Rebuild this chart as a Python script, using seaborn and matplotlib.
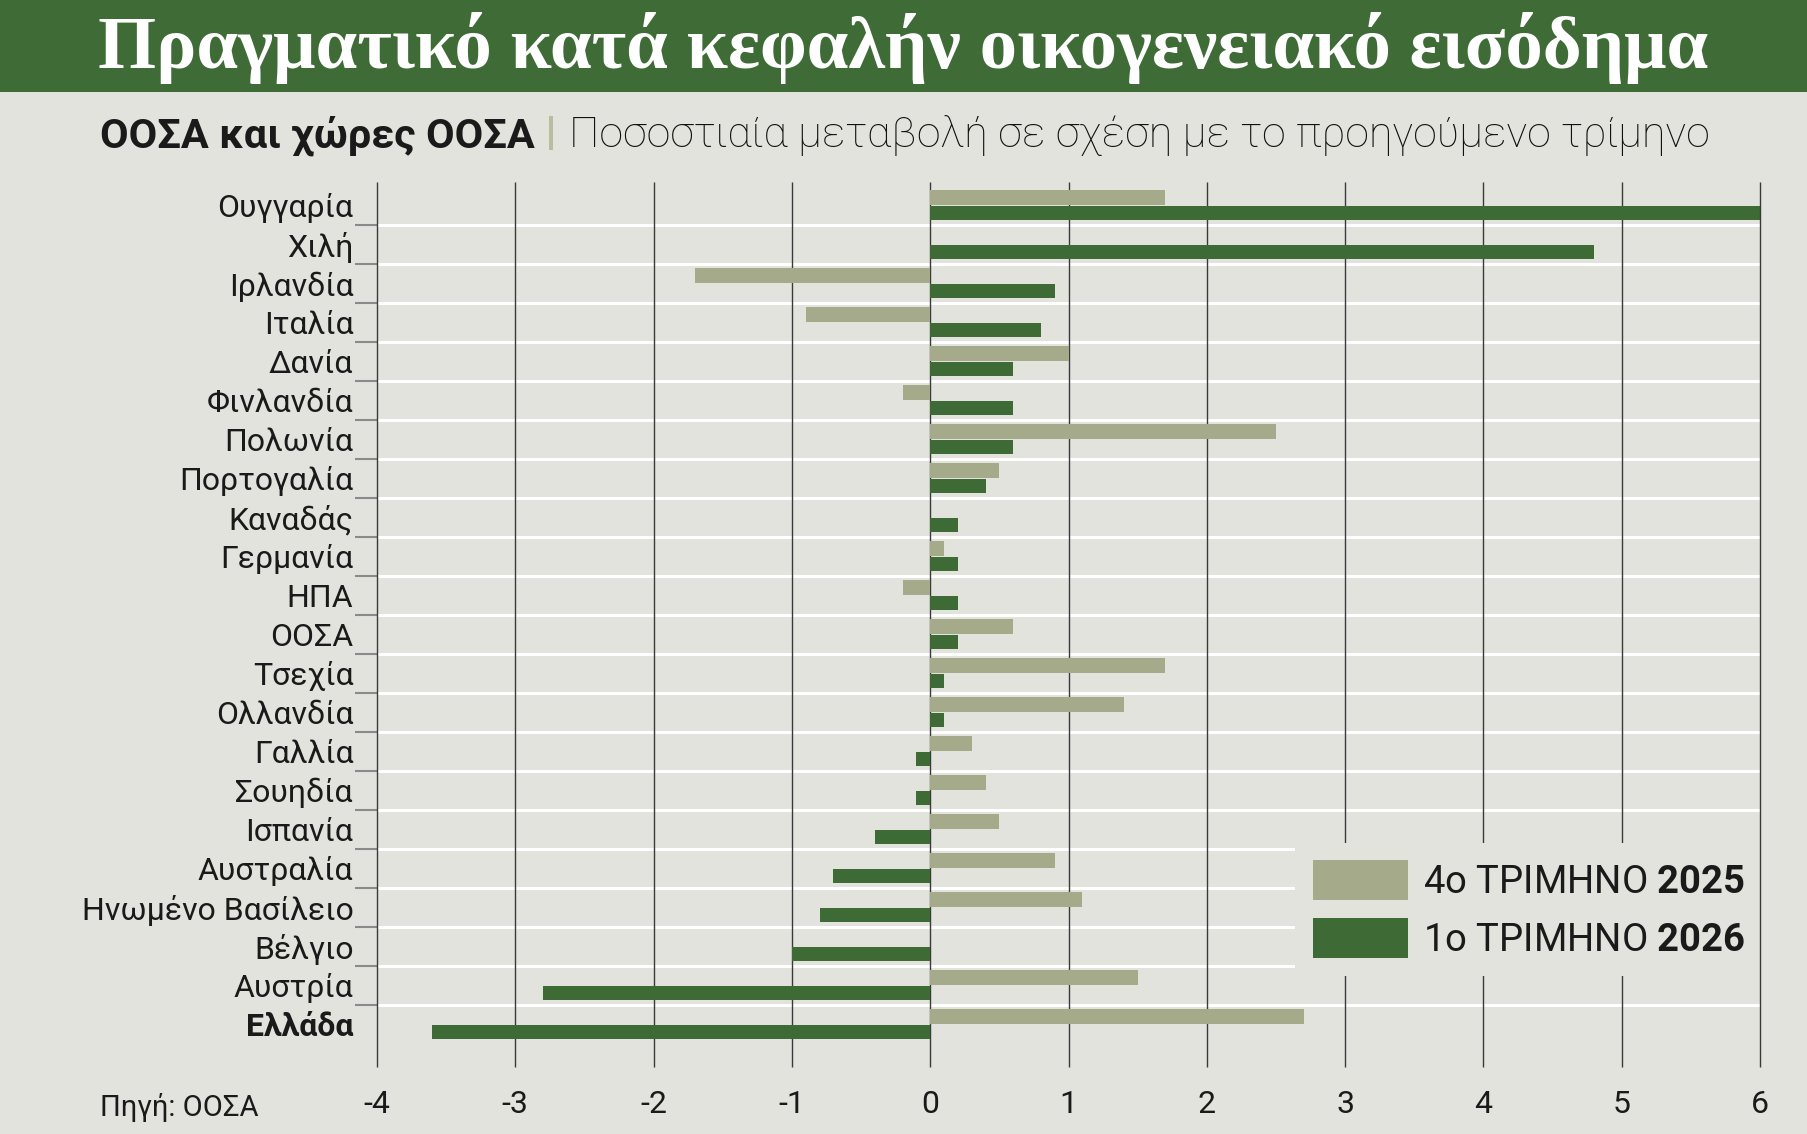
import matplotlib
matplotlib.use("Agg")
import matplotlib.pyplot as plt
from matplotlib.patches import Rectangle, Patch
import seaborn as sns
import pandas as pd

countries = ["Ουγγαρία", "Χιλή", "Ιρλανδία", "Ιταλία", "Δανία", "Φινλανδία",
             "Πολωνία", "Πορτογαλία", "Καναδάς", "Γερμανία", "ΗΠΑ", "ΟΟΣΑ",
             "Τσεχία", "Ολλανδία", "Γαλλία", "Σουηδία", "Ισπανία", "Αυστραλία",
             "Ηνωμένο Βασίλειο", "Βέλγιο", "Αυστρία", "Ελλάδα"]
q4_2025 = [1.7, 0.0, -1.7, -0.9, 1.0, -0.2, 2.5, 0.5, 0.0, 0.1, -0.2, 0.6,
           1.7, 1.4, 0.3, 0.4, 0.5, 0.9, 1.1, 0.0, 1.5, 2.7]
q1_2026 = [6.0, 4.8, 0.9, 0.8, 0.6, 0.6, 0.6, 0.4, 0.2, 0.2, 0.2, 0.2,
           0.1, 0.1, -0.1, -0.1, -0.4, -0.7, -0.8, -1.0, -2.8, -3.6]
periods = ["4ο ΤΡΙΜΗΝΟ 2025", "1ο ΤΡΙΜΗΝΟ 2026"]
xticks = [-4, -3, -2, -1, 0, 1, 2, 3, 4, 5, 6]

BG = "#e3e3dd"
HEAD = "#3f6b37"
LIGHT = "#a5aa8b"
DARK = "#3e6a36"

df = pd.DataFrame({
    "country": countries * 2,
    "period": [periods[0]] * len(countries) + [periods[1]] * len(countries),
    "value": q4_2025 + q1_2026,
})

sns.set_style("white", {"axes.facecolor": BG, "figure.facecolor": BG})
plt.rcParams["font.family"] = ["Roboto", "DejaVu Sans"]
plt.rcParams["mathtext.fontset"] = "custom"
plt.rcParams["mathtext.rm"] = "Roboto"
plt.rcParams["mathtext.bf"] = "Roboto:bold"

W, H = 1807, 1134
fig = plt.figure(figsize=(W / 100, H / 100), dpi=100, facecolor=BG)
ax = fig.add_axes([377 / W, 1 - 1066 / H, (1760 - 377) / W, (1066 - 184) / H])
ax.set_facecolor(BG)

n = len(countries)
ax.hlines([i + 0.5 for i in range(n - 1)], -4, 6, color="white", lw=2.2, zorder=1)
ax.vlines(xticks[:-1], -0.6, 22.1, color="#3a3a3a", lw=1.0, zorder=1.5, clip_on=False)
# the last line stays above the legend box
ax.vlines(xticks[-1:], -0.6, 22.1, color="#3a3a3a", lw=1.0, zorder=11, clip_on=False)

sns.barplot(data=df, y="country", x="value", hue="period", orient="h",
            palette=[LIGHT, DARK], width=0.8, gap=0.08, legend=False,
            saturation=1, linewidth=0, edgecolor="none", ax=ax, zorder=3)

ax.set_xlim(-4, 6)
ax.set_ylim(22.07, -0.55)
ax.set_xlabel("")
ax.set_ylabel("")
for s in ax.spines.values():
    s.set_visible(False)

ax.set_xticks(xticks)
ax.set_xticklabels([str(v) for v in xticks], fontsize=23, color="#1a1a1a")
ax.tick_params(axis="x", length=0, pad=17)
ax.set_yticks(range(n))
ax.set_yticklabels(countries, fontsize=23, fontweight="normal", color="#1a1a1a")
ax.set_yticks([i + 0.5 for i in range(n - 1)], minor=True)
ax.tick_params(axis="y", which="major", left=True, length=0, pad=17)
ax.tick_params(axis="y", which="minor", left=True, length=16, width=1.5, color="#8a8a8a")
ax.get_yticklabels()[-1].set_fontweight("bold")

# legend with bold year
handles = [Patch(facecolor=LIGHT, edgecolor="none"), Patch(facecolor=DARK, edgecolor="none")]
labels = [r"4ο ΤΡΙΜΗΝΟ $\mathbf{2025}$", r"1ο ΤΡΙΜΗΝΟ $\mathbf{2026}$"]
leg = ax.legend(handles, labels, loc="upper right",
                bbox_to_anchor=(1763 / W, 1 - 843 / H), bbox_transform=fig.transFigure,
                borderaxespad=0, borderpad=0.45, fontsize=27.5, handlelength=2.5,
                handleheight=1.23, handletextpad=0.4, labelspacing=0.45,
                frameon=True, facecolor=BG, edgecolor="none", framealpha=1,
                fancybox=False)
leg.set_zorder(10)
for t in leg.get_texts():
    t.set_color("#1a1a1a")

# header band
fig.patches.append(Rectangle((0, 1 - 92 / H), 1, 92 / H, transform=fig.transFigure,
                             facecolor=HEAD, edgecolor="none", zorder=0))
title = fig.text(0.5, 1 - 48 / H, "Πραγματικό κατά κεφαλήν οικογενειακό εισόδημα",
                 ha="center", va="center", color="white", fontsize=50,
                 fontweight="bold", family=["Liberation Serif", "DejaVu Serif"])

sub_y = 1 - 147 / H
sub1 = fig.text(100 / W, sub_y, "ΟΟΣΑ και χώρες ΟΟΣΑ", ha="left", va="baseline",
                fontsize=27, fontweight="bold", color="#1a1a1a")
sub2 = fig.text(569 / W, sub_y, "Ποσοστιαία μεταβολή σε σχέση με το προηγούμενο τρίμηνο",
                ha="left", va="baseline", fontsize=27, fontweight="light", color="#111111")
fig.patches.append(Rectangle((549 / W, 1 - 150 / H), 4 / W, 34 / H,
                             transform=fig.transFigure, facecolor="#b9bd9f",
                             edgecolor="none"))

fig.text(100 / W, 1 - 1107 / H, "Πηγή: ΟΟΣΑ", ha="left", va="center",
         fontsize=21, color="#1a1a1a")

# fit header texts to the reference widths
r = fig.canvas.get_renderer()
for t, target in [(title, 1611), (sub1, 435), (sub2, 1709 - 569)]:
    w = t.get_window_extent(r).width
    t.set_fontsize(t.get_fontsize() * target / w)

fig.savefig("out.png", dpi=100, facecolor=BG)
